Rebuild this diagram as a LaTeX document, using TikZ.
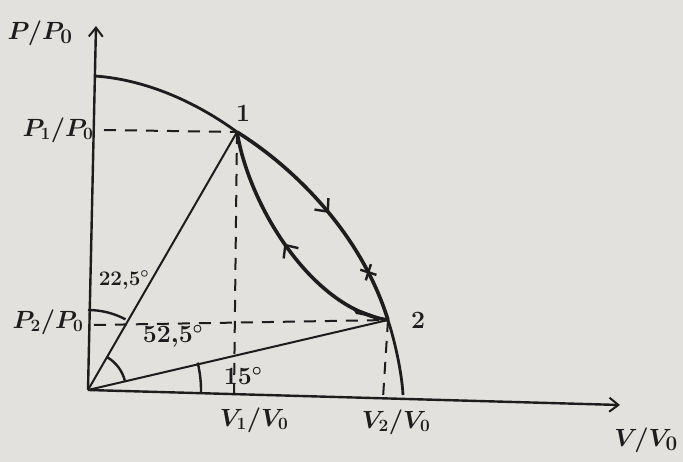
\documentclass[tikz,border=0pt]{standalone}
\usetikzlibrary{arrows.meta,decorations.markings}
\definecolor{paper}{RGB}{226,225,222}
\definecolor{ink}{RGB}{30,28,28}
\begin{document}
\begin{tikzpicture}[x=1pt,y=-1pt,
  axis/.style={draw=ink,line width=2.4pt,-{Straight Barb[length=9pt,width=14pt,line width=2pt]}},
  curve/.style={draw=ink,line width=2.8pt},
  proc/.style={draw=ink,line width=3.6pt},
  thin/.style={draw=ink,line width=2pt},
  guide/.style={draw=ink,line width=2pt,dash pattern=on 12pt off 9pt},
  lab/.style={text=ink,font=\fontsize{24}{26}\selectfont\boldmath,inner sep=0pt},
  smlab/.style={text=ink,font=\fontsize{20}{22}\selectfont\boldmath,inner sep=0pt},
  biglab/.style={text=ink,font=\fontsize{30}{32}\selectfont\boldmath,inner sep=0pt},
  angle/.style={draw=ink,line width=2.4pt}]
\useasboundingbox (0,0) rectangle (683,462);
\fill[paper] (0,0) rectangle (683,462);
% key points
\coordinate (O) at (88,390);
\coordinate (ytip) at (96,26);
\coordinate (xtip) at (620,405);
\coordinate (top) at (95,76);
\coordinate (p1) at (237,132);
\coordinate (p2) at (388,320);
\coordinate (bot) at (403,395);
\coordinate (p1y) at (104,130);
\coordinate (p2y) at (94,325);
\coordinate (v1) at (234,395);
\coordinate (v2) at (383,398);
% axes
\draw[axis] (O) -- (ytip);
\draw[axis] (O) -- (xtip);
% outer curve
\draw[curve] (top) .. controls (150,80) and (200,105) .. (p1);
\draw[proc,postaction={decorate},decoration={markings,
   mark=at position 0.5 with {\arrow{Straight Barb[length=10pt,width=18pt,line width=2.4pt]}},
   mark=at position 0.79 with {\draw[line width=2.4pt] (-6pt,-6pt) -- (6pt,6pt) (-6pt,6pt) -- (6pt,-6pt);}}]
   (p1) .. controls (290,165) and (360,230) .. (p2);
\draw[curve] (p2) .. controls (396,345) and (402,375) .. (bot);
% inner curve
\draw[proc,postaction={decorate},decoration={markings,
   mark=at position 0.52 with {\arrow{Straight Barb[length=10pt,width=18pt,line width=2.4pt]}}}]
   (p2) .. controls (315,310) and (250,210) .. (p1);
\fill[ink] (p2) -- (352,307) -- (356,314) -- cycle;
% straight lines from origin
\draw[thin] (O) -- (p1);
\draw[thin] (O) -- (p2);
% guides
\draw[guide] (p1y) -- (p1);
\draw[guide] (p1) -- (v1);
\draw[guide] (p2y) -- (p2);
\draw[guide] (p2) -- (v2);
% angle arcs
\draw[angle] (O) ++(-90:80) arc (-90:-62:80);
\draw[angle] (O) ++(-60:38) arc (-60:-13:38);
\draw[angle] (O) ++(-14:113) arc (-14:2:113);
% labels
\node[biglab] (lp) at (40,33) {$P/P_0$};
\node[lab] (lp1) at (58,130) {$P_1/P_0$};
\node[lab] (lp2) at (48,322) {$P_2/P_0$};
\node[lab] (lv1) at (254,420) {$V_1/V_0$};
\node[lab] (lv2) at (396,422) {$V_2/V_0$};
\node[biglab] (lv) at (646,440) {$V/V_0$};
\node[lab] (l1) at (243,113) {$1$};
\node[lab] (l2) at (418,320) {$2$};
\node[smlab] (a1) at (124,280) {$22{,}5^\circ$};
\node[lab] (a2) at (173,336) {$52{,}5^\circ$};
\node[lab] (a3) at (243,376) {$15^\circ$};
\end{tikzpicture}
\end{document}
